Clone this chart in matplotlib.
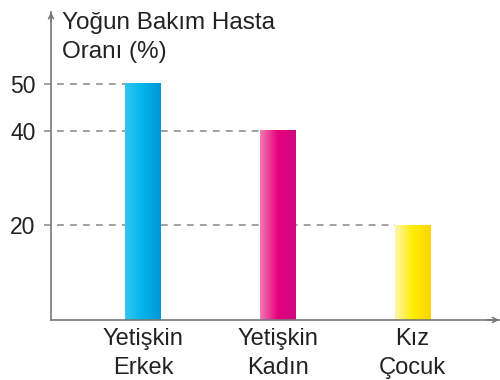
import numpy as np
import matplotlib
matplotlib.use("Agg")
import matplotlib.pyplot as plt
from matplotlib.colors import LinearSegmentedColormap
from matplotlib.transforms import blended_transform_factory

plt.rcParams['font.family'] = ['Liberation Sans', 'DejaVu Sans']

categories = ["Yetişkin\nErkek", "Yetişkin\nKadın", "Kız\nÇocuk"]
values = [50, 40, 20]
yticks = [20, 40, 50]
ylabel = "Yoğun Bakım Hasta\nOranı (%)"

# left-to-right gradient stops for each bar
gradients = [
    ["#35c6f2", "#00b4ec", "#0096d4"],
    ["#f27ab2", "#e6007e", "#cf0a7f"],
    ["#fff6b0", "#ffec00", "#ffd400"],
]

axis_color = "#777777"
text_color = "#222222"

fig = plt.figure(figsize=(5.0, 3.8), dpi=100)
ax = fig.add_axes([0.102, 0.158, 0.898, 0.810])

bar_w = 0.267
x = np.arange(len(values))
ax.set_xlim(-0.683, 2.649)
ax.set_ylim(0, 65.1)

grad = np.linspace(0, 1, 256).reshape(1, -1)
for xi, v, stops in zip(x, values, gradients):
    cmap = LinearSegmentedColormap.from_list("g", stops)
    ax.imshow(grad, cmap=cmap, aspect="auto", interpolation="bicubic",
              extent=[xi - bar_w / 2, xi + bar_w / 2, 0, v], zorder=2)

# dashed guide lines from the axis to each bar top
trans = blended_transform_factory(ax.transAxes, ax.transData)
x0, x1 = ax.get_xlim()
for xi, v in zip(x, values):
    left_frac = (xi - bar_w / 2 - x0) / (x1 - x0)
    ax.plot([-0.016, left_frac], [v, v], transform=trans, color="#888888",
            lw=1.1, ls=(0, (4.5, 4)), clip_on=False, zorder=1)

ax.set_yticks(yticks)
ax.set_yticklabels([str(t) for t in yticks], fontsize=16.5, color=text_color)
ax.tick_params(axis="y", length=0, pad=11)
ax.set_xticks(x)
ax.set_xticklabels(categories, fontsize=17, color=text_color, linespacing=1.4)
ax.tick_params(axis="x", length=0, pad=6)

for s in ["top", "right"]:
    ax.spines[s].set_visible(False)
for s in ["left", "bottom"]:
    ax.spines[s].set_color(axis_color)
    ax.spines[s].set_linewidth(1.2)

# arrowheads on both axes
ax.annotate("", xy=(0, 1.0), xytext=(0, 0.97), xycoords="axes fraction",
            arrowprops=dict(arrowstyle="->", color=axis_color, lw=1.1,
                            mutation_scale=9, shrinkA=0, shrinkB=0),
            annotation_clip=False)
ax.annotate("", xy=(0.998, 0), xytext=(0.97, 0), xycoords="axes fraction",
            arrowprops=dict(arrowstyle="->", color=axis_color, lw=1.1,
                            mutation_scale=9, shrinkA=0, shrinkB=0),
            annotation_clip=False)

fig.text(0.124, 0.968, ylabel, fontsize=17.5, color=text_color,
         ha="left", va="top", linespacing=1.4)

fig.savefig("out.png", dpi=100)
